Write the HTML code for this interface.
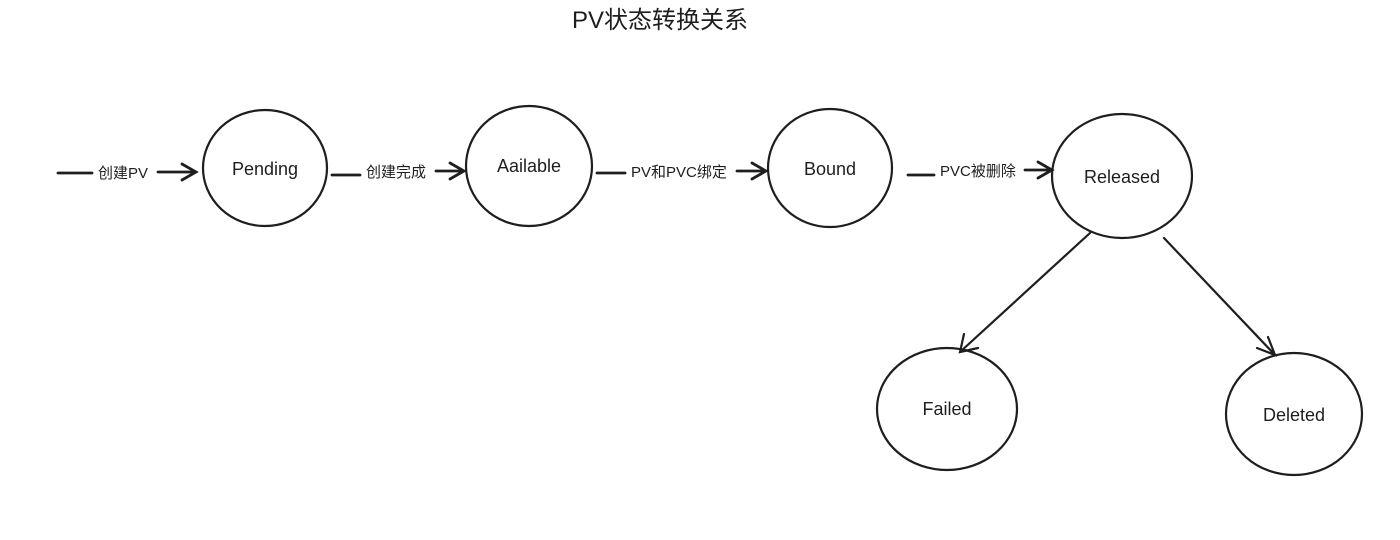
<!DOCTYPE html>
<html><head><meta charset="utf-8"><style>
body{margin:0;width:1400px;height:540px;background:#fff;overflow:hidden}
svg{display:block}
text{font-family:"Liberation Sans","Noto Sans CJK SC",sans-serif;fill:#1e1e1e}
.n{font-size:18px}
.l{font-size:15px}
</style></head><body>
<svg width="1400" height="540" viewBox="0 0 1400 540" fill="none" stroke="#1e1e1e" stroke-width="2.2" stroke-linecap="round">
<text x="660" y="28" text-anchor="middle" style="font-size:24px" stroke="none">PV状态转换关系</text>
<ellipse cx="265" cy="168" rx="62" ry="58"/>
<ellipse cx="529" cy="166" rx="63" ry="60"/>
<ellipse cx="830" cy="168" rx="62" ry="59"/>
<ellipse cx="1122" cy="176" rx="70" ry="62"/>
<ellipse cx="947" cy="409" rx="70" ry="61"/>
<ellipse cx="1294" cy="414" rx="68" ry="61"/>
<g stroke="none" text-anchor="middle">
<text class="n" x="265" y="175">Pending</text>
<text class="n" x="529" y="172">Aailable</text>
<text class="n" x="830" y="175">Bound</text>
<text class="n" x="1122" y="183">Released</text>
<text class="n" x="947" y="415">Failed</text>
<text class="n" x="1294" y="421">Deleted</text>
</g>
<g stroke-width="2.8">
<path d="M58 173H92"/><path d="M158 172H196M182 164L196 172L182 180"/>
<path d="M332 175H360"/><path d="M436 171H464M450 163L464 171L450 179"/>
<path d="M597 173H625"/><path d="M737 171H766M752 163L766 171L752 179"/>
<path d="M908 175H934"/><path d="M1025 170H1052M1038 162L1052 170L1038 178"/>
</g>
<path d="M1090 233L960 352M964 334L960 352L978 348"/>
<path d="M1164 238L1275 355M1268 337L1275 355L1257 348"/>
<g stroke="none">
<text class="l" x="98" y="178">创建PV</text>
<text class="l" x="366" y="177">创建完成</text>
<text class="l" x="631" y="177">PV和PVC绑定</text>
<text class="l" x="940" y="176">PVC被删除</text>
</g>
</svg>
</body></html>
